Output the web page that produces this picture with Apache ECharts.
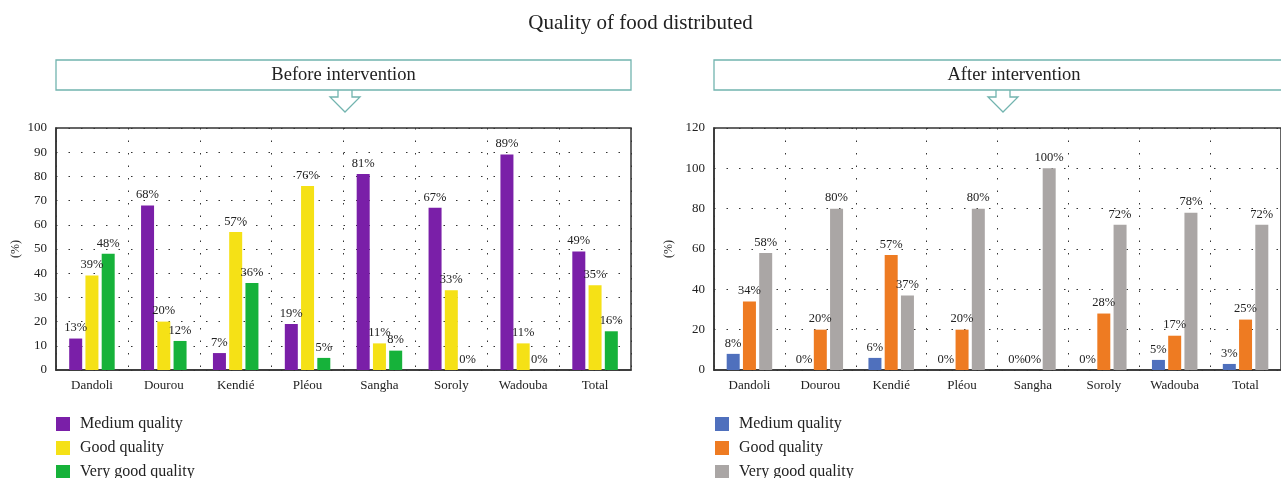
<!DOCTYPE html>
<html lang="en">
<head>
    <meta http-equiv="Content-Type" content="text/html;charset=utf-8">
    <script type="text/javascript" src="https://cdn.jsdelivr.net/npm/echarts@6/dist/echarts.min.js"></script>
    <title>Quality of food distributed</title>
    <style>
        html, body { margin: 0; padding: 0; background: #fff; }
        #main { position: absolute; left: 0; top: 0; width: 1281px; height: 478px; }
        #after { position: absolute; left: 640px; top: 0; width: 641px; height: 478px; }
    </style>
</head>
<body>
<div id="main"></div>
<div id="after"></div>
<script>
    var categories = ['Dandoli', 'Dourou', 'Kendié', 'Pléou', 'Sangha', 'Soroly', 'Wadouba', 'Total'];
    var seriesNames = ['Medium quality', 'Good quality', 'Very good quality'];

    // Before intervention (%)
    var beforeMedium = [13, 68, 7, 19, 81, 67, 89, 49];
    var beforeGood = [39, 20, 57, 76, 11, 33, 11, 35];
    var beforeVeryGood = [48, 12, 36, 5, 8, 0, 0, 16];

    // After intervention (%)
    var afterMedium = [8, 0, 6, 0, 0, 0, 5, 3];
    var afterGood = [34, 20, 57, 20, 0, 28, 17, 25];
    var afterVeryGood = [58, 80, 37, 80, 100, 72, 78, 72];

    var beforeColors = ['#7a1fa8', '#f5e116', '#16b23a'];
    var afterColors = ['#4f70bd', '#ee7b22', '#aaa6a5'];

    var FONT = 'Liberation Serif';
    var boxColor = '#72b4af';
    var dots = [1.5, 11];

    function make_series(data, color) {
        return {
            type: 'bar',
            barWidth: 13,
            barGap: '25%',
            data: data,
            itemStyle: {color: color},
            label: {
                show: true,
                position: 'top',
                distance: 4,
                formatter: '{c}%',
                fontFamily: FONT,
                fontSize: 12.5,
                color: '#222'
            }
        };
    }

    // box with the hollow arrow under it
    function banner(x, w, text, cx) {
        return [
            {
                type: 'rect',
                shape: {x: x, y: 60, width: w, height: 30},
                style: {fill: '#fff', stroke: boxColor, lineWidth: 1.3}
            },
            {
                type: 'polyline',
                shape: {points: [[cx - 7, 90], [cx - 7, 97], [cx - 15, 97], [cx, 112], [cx + 15, 97], [cx + 7, 97], [cx + 7, 90]]},
                style: {fill: null, stroke: boxColor, lineWidth: 1.3}
            },
            {
                type: 'text',
                x: x + w / 2,
                y: 75,
                style: {text: text, font: '18.5px "' + FONT + '"', fill: '#222', align: 'center', verticalAlign: 'middle'}
            }
        ];
    }

    // one legend per row so the list never wraps into columns
    function legends(left) {
        return seriesNames.map(function (name, i) {
            return {
                orient: 'vertical',
                left: left,
                top: 416 + i * 24,
                padding: 0,
                itemWidth: 14,
                itemHeight: 14,
                icon: 'rect',
                data: [name],
                textStyle: {fontFamily: FONT, fontSize: 16, color: '#222', padding: [0, 0, 0, 5]}
            };
        });
    }

    function chart_option(grid, axisMax, colors, data, legendLeft) {
        return {
            animation: false,
            grid: {
                left: grid.left, top: 128, width: grid.width, height: 242,
                show: true, borderColor: '#333', borderWidth: 1.5
            },
            legend: legends(legendLeft),
            xAxis: {
                type: 'category',
                data: categories,
                axisLine: {lineStyle: {color: '#333', width: 1.5}},
                axisTick: {show: false},
                axisLabel: {fontFamily: FONT, fontSize: 13, color: '#222', margin: 9, interval: 0},
                splitLine: {show: true, interval: 0, lineStyle: {type: dots, color: '#333', width: 1}}
            },
            yAxis: {
                type: 'value',
                min: 0,
                max: axisMax,
                interval: axisMax === 100 ? 10 : 20,
                name: '(%)',
                nameLocation: 'middle',
                nameGap: axisMax === 100 ? 34 : 29,
                nameTextStyle: {fontFamily: FONT, fontSize: 12, color: '#222'},
                axisLine: {show: true, lineStyle: {color: '#333', width: 1.5}},
                axisTick: {show: false},
                axisLabel: {fontFamily: FONT, fontSize: 13, color: '#222', margin: 9},
                splitLine: {show: true, lineStyle: {type: dots, color: '#333', width: 1}}
            },
            series: data.map(function (d, i) {
                var s = make_series(d, colors[i]);
                s.name = seriesNames[i];
                return s;
            })
        };
    }

    var before = echarts.init(document.getElementById('main'));
    var beforeOption = chart_option({left: 56, width: 575}, 100, beforeColors,
        [beforeMedium, beforeGood, beforeVeryGood], 56);
    beforeOption.title = {
        text: 'Quality of food distributed',
        left: 'center',
        top: 8,
        textStyle: {fontFamily: FONT, fontSize: 21, fontWeight: 'normal', color: '#222'}
    };
    beforeOption.graphic = banner(56, 575, 'Before intervention', 345)
        .concat(banner(714, 600, 'After intervention', 1003));
    before.setOption(beforeOption);

    var after = echarts.init(document.getElementById('after'));
    after.setOption(chart_option({left: 74, width: 572}, 120, afterColors,
        [afterMedium, afterGood, afterVeryGood], 75));
</script>
</body>
</html>
